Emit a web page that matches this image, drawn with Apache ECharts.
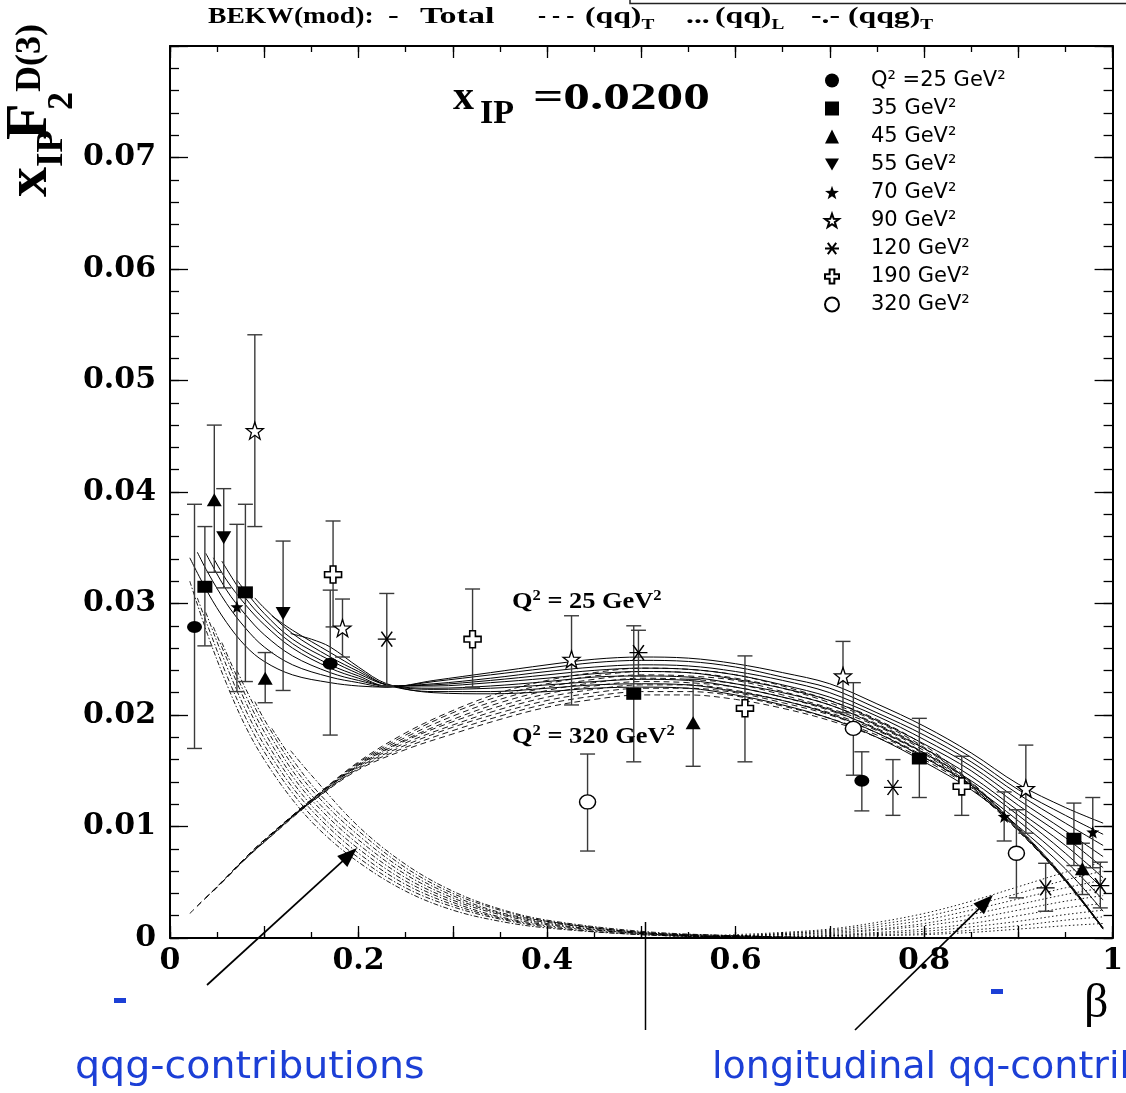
<!DOCTYPE html>
<html><head><meta charset="utf-8">
<script src="https://cdn.jsdelivr.net/npm/echarts/dist/echarts.min.js"></script>
<style>html,body{margin:0;padding:0;background:#fff}#c{width:1126px;height:1093px}</style>
</head><body><div id="c"></div>
<script>
// ---------------- DATA ----------------
const Q2 = [25, 35, 45, 55, 70, 90, 120, 190, 320];
const legendNames = ['Q\u00b2 =25 GeV\u00b2','35 GeV\u00b2','45 GeV\u00b2','55 GeV\u00b2','70 GeV\u00b2','90 GeV\u00b2','120 GeV\u00b2','190 GeV\u00b2','320 GeV\u00b2'];
const xTickLabels = ['0','0.2','0.4','0.6','0.8','1'];

// data points: [beta, value, errLow, errHigh]
const pts25  = [[0.026,.0279,.0170,.0389],[0.170,.0246,.0182,.0312],[0.734,.0141,.0114,.0167]];
const pts35  = [[0.037,.0315,.0262,.0369],[0.080,.0310,.0230,.0389],[0.492,.0219,.0158,.0280],[0.795,.0161,.0126,.0197],[0.959,.0089,.0065,.0121]];
const pts45  = [[0.047,.0393,.0328,.0460],[0.101,.0233,.0211,.0256],[0.555,.0193,.0154,.0232],[0.968,.0062,.0039,.0085]];
const pts55  = [[0.057,.0359,.0314,.0403],[0.120,.0291,.0222,.0356]];
const pts70  = [[0.071,.0297,.0221,.0371],[0.885,.0109,.0087,.0131],[0.979,.0095,.0063,.0126]];
const pts90  = [[0.090,.0455,.0369,.0541],[0.183,.0278,.0252,.0304],[0.426,.0250,.0209,.0289],[0.714,.0235,.0202,.0266],[0.908,.0134,.0094,.0173]];
const pts120 = [[0.230,.0268,.0226,.0309],[0.497,.0256,.0235,.0276],[0.767,.0135,.0110,.0160],[0.929,.0045,.0024,.0067],[0.987,.0047,.0027,.0068]];
const pts190 = [[0.173,.0326,.0279,.0374],[0.321,.0268,.0225,.0313],[0.610,.0206,.0158,.0253],[0.840,.0136,.0110,.0163]];
const pts320 = [[0.443,.0122,.0078,.0165],[0.725,.0188,.0146,.0229],[0.898,.0076,.0036,.0115]];
const pointSets = [pts25, pts35, pts45, pts55, pts70, pts90, pts120, pts190, pts320];

// BEKW(mod) total (solid), one curve per Q2 (25 ... 320)
const totalCurves = [
 [[0.021,.0341],[0.04,.0310],[0.06,.0283],[0.08,.0262],[0.1,.0248],[0.13,.0236],[0.17,.0229],[0.2,.0226],[0.23,.0225],[0.28,.0231],[0.34,.0238],[0.4,.0245],[0.45,.0250],[0.5,.0252],[0.55,.0251],[0.6,.0246],[0.65,.0238],[0.7,.0228],[0.75,.0210],[0.8,.0190],[0.85,.0166],[0.9,.0138],[0.95,.0117],[0.99,.0103]],
 [[0.029,.0346],[0.04,.0328],[0.06,.0300],[0.08,.0278],[0.1,.0261],[0.13,.0245],[0.17,.0234],[0.2,.0229],[0.23,.0225],[0.28,.0230],[0.34,.0236],[0.4,.0242],[0.45,.0247],[0.5,.0249],[0.55,.0248],[0.6,.0243],[0.65,.0234],[0.7,.0224],[0.75,.0206],[0.8,.0186],[0.85,.0162],[0.9,.0133],[0.95,.0110],[0.99,.0093]],
 [[0.038,.0345],[0.06,.0312],[0.08,.0290],[0.1,.0272],[0.13,.0253],[0.17,.0238],[0.2,.0231],[0.23,.0226],[0.28,.0228],[0.34,.0233],[0.4,.0239],[0.45,.0243],[0.5,.0245],[0.55,.0244],[0.6,.0239],[0.65,.0231],[0.7,.0220],[0.75,.0202],[0.8,.0182],[0.85,.0158],[0.9,.0129],[0.95,.0103],[0.99,.0083]],
 [[0.046,.0341],[0.06,.0321],[0.08,.0299],[0.1,.0281],[0.13,.0260],[0.17,.0242],[0.2,.0233],[0.23,.0226],[0.28,.0227],[0.34,.0231],[0.4,.0236],[0.45,.0240],[0.5,.0242],[0.55,.0241],[0.6,.0236],[0.65,.0227],[0.7,.0216],[0.75,.0199],[0.8,.0178],[0.85,.0154],[0.9,.0124],[0.95,.0096],[0.99,.0073]],
 [[0.055,.0338],[0.08,.0305],[0.1,.0286],[0.13,.0264],[0.17,.0245],[0.2,.0235],[0.23,.0226],[0.28,.0226],[0.34,.0229],[0.4,.0233],[0.45,.0237],[0.5,.0239],[0.55,.0238],[0.6,.0232],[0.65,.0224],[0.7,.0213],[0.75,.0195],[0.8,.0174],[0.85,.0150],[0.9,.0119],[0.95,.0090],[0.99,.0063]],
 [[0.071,.0321],[0.08,.0311],[0.1,.0291],[0.13,.0268],[0.17,.0249],[0.2,.0237],[0.23,.0227],[0.28,.0224],[0.34,.0226],[0.4,.0230],[0.45,.0234],[0.5,.0235],[0.55,.0234],[0.6,.0228],[0.65,.0220],[0.7,.0209],[0.75,.0191],[0.8,.0170],[0.85,.0145],[0.9,.0114],[0.95,.0083],[0.99,.0054]],
 [[0.09,.0305],[0.1,.0296],[0.13,.0273],[0.17,.0252],[0.2,.0239],[0.23,.0227],[0.28,.0223],[0.34,.0224],[0.4,.0227],[0.45,.0230],[0.5,.0232],[0.55,.0231],[0.6,.0225],[0.65,.0216],[0.7,.0205],[0.75,.0187],[0.8,.0166],[0.85,.0141],[0.9,.0110],[0.95,.0076],[0.99,.0044]],
 [[0.108,.0289],[0.13,.0276],[0.17,.0256],[0.2,.0241],[0.23,.0227],[0.28,.0221],[0.34,.0221],[0.4,.0224],[0.45,.0227],[0.5,.0228],[0.55,.0227],[0.6,.0221],[0.65,.0213],[0.7,.0201],[0.75,.0184],[0.8,.0162],[0.85,.0137],[0.9,.0105],[0.95,.0069],[0.99,.0034]],
 [[0.128,.0273],[0.15,.0268],[0.17,.0261],[0.2,.0243],[0.23,.0228],[0.28,.0220],[0.34,.0219],[0.4,.0221],[0.45,.0224],[0.5,.0225],[0.55,.0224],[0.6,.0218],[0.65,.0209],[0.7,.0197],[0.75,.0180],[0.8,.0158],[0.85,.0133],[0.9,.0100],[0.95,.0062],[0.99,.0024]]
];

// transverse qq (dashed)
const qqTCurves = [
 [[0.021,.0022],[0.05,.0046],[0.08,.0072],[0.1,.0088],[0.15,.0124],[0.2,.0158],[0.25,.0184],[0.3,.0204],[0.35,.0220],[0.4,.0231],[0.45,.0238],[0.5,.0242],[0.55,.0241],[0.6,.0236],[0.65,.0226],[0.7,.0213],[0.75,.0196],[0.8,.0173],[0.85,.0140],[0.9,.0099],[0.95,.0053],[0.99,.0009]],
 [[0.029,.0029],[0.05,.0046],[0.08,.0072],[0.1,.0088],[0.15,.0124],[0.2,.0157],[0.25,.0182],[0.3,.0202],[0.35,.0217],[0.4,.0228],[0.45,.0235],[0.5,.0239],[0.55,.0238],[0.6,.0233],[0.65,.0224],[0.7,.0211],[0.75,.0194],[0.8,.0171],[0.85,.0139],[0.9,.0099],[0.95,.0053],[0.99,.0009]],
 [[0.038,.0036],[0.06,.0054],[0.08,.0071],[0.1,.0087],[0.15,.0124],[0.2,.0156],[0.25,.0180],[0.3,.0199],[0.35,.0214],[0.4,.0225],[0.45,.0232],[0.5,.0236],[0.55,.0235],[0.6,.0231],[0.65,.0221],[0.7,.0209],[0.75,.0192],[0.8,.0170],[0.85,.0139],[0.9,.0098],[0.95,.0052],[0.99,.0009]],
 [[0.046,.0042],[0.06,.0054],[0.08,.0071],[0.1,.0087],[0.15,.0123],[0.2,.0155],[0.25,.0178],[0.3,.0196],[0.35,.0211],[0.4,.0222],[0.45,.0229],[0.5,.0233],[0.55,.0232],[0.6,.0228],[0.65,.0218],[0.7,.0206],[0.75,.0190],[0.8,.0168],[0.85,.0138],[0.9,.0098],[0.95,.0052],[0.99,.0009]],
 [[0.055,.0050],[0.08,.0071],[0.1,.0087],[0.15,.0123],[0.2,.0155],[0.25,.0177],[0.3,.0194],[0.35,.0208],[0.4,.0219],[0.45,.0226],[0.5,.0230],[0.55,.0229],[0.6,.0225],[0.65,.0216],[0.7,.0204],[0.75,.0188],[0.8,.0166],[0.85,.0137],[0.9,.0097],[0.95,.0052],[0.99,.0008]],
 [[0.071,.0064],[0.1,.0086],[0.15,.0123],[0.2,.0154],[0.25,.0175],[0.3,.0191],[0.35,.0205],[0.4,.0216],[0.45,.0223],[0.5,.0227],[0.55,.0227],[0.6,.0222],[0.65,.0213],[0.7,.0202],[0.75,.0186],[0.8,.0165],[0.85,.0136],[0.9,.0097],[0.95,.0052],[0.99,.0008]],
 [[0.09,.0079],[0.1,.0086],[0.15,.0122],[0.2,.0153],[0.25,.0173],[0.3,.0189],[0.35,.0202],[0.4,.0213],[0.45,.0220],[0.5,.0224],[0.55,.0224],[0.6,.0220],[0.65,.0211],[0.7,.0200],[0.75,.0184],[0.8,.0163],[0.85,.0136],[0.9,.0097],[0.95,.0051],[0.99,.0008]],
 [[0.108,.0093],[0.15,.0122],[0.2,.0152],[0.25,.0171],[0.3,.0186],[0.35,.0199],[0.4,.0210],[0.45,.0217],[0.5,.0221],[0.55,.0221],[0.6,.0217],[0.65,.0208],[0.7,.0197],[0.75,.0182],[0.8,.0162],[0.85,.0135],[0.9,.0096],[0.95,.0051],[0.99,.0008]],
 [[0.128,.0108],[0.15,.0122],[0.2,.0151],[0.25,.0169],[0.3,.0183],[0.35,.0196],[0.4,.0207],[0.45,.0214],[0.5,.0218],[0.55,.0218],[0.6,.0214],[0.65,.0206],[0.7,.0195],[0.75,.0180],[0.8,.0160],[0.85,.0134],[0.9,.0096],[0.95,.0051],[0.99,.0008]]
];

// longitudinal qq (dotted)
const qqLCurves = [
 [[0.5,0],[0.55,.0001],[0.6,.0003],[0.65,.0005],[0.7,.0008],[0.75,.0014],[0.8,.0022],[0.85,.0033],[0.9,.0046],[0.95,.0059],[0.99,.0068]],
 [[0.5,0],[0.55,.0001],[0.6,.0002],[0.65,.0004],[0.7,.0007],[0.75,.0012],[0.8,.0019],[0.85,.0029],[0.9,.0040],[0.95,.0052],[0.99,.0060]],
 [[0.5,0],[0.55,.0001],[0.6,.0002],[0.65,.0004],[0.7,.0006],[0.75,.0010],[0.8,.0016],[0.85,.0025],[0.9,.0035],[0.95,.0045],[0.99,.0052]],
 [[0.5,0],[0.55,.0001],[0.6,.0002],[0.65,.0003],[0.7,.0005],[0.75,.0008],[0.8,.0013],[0.85,.0021],[0.9,.0030],[0.95,.0039],[0.99,.0045]],
 [[0.5,0],[0.55,.00005],[0.6,.0001],[0.65,.0003],[0.7,.0004],[0.75,.0007],[0.8,.0011],[0.85,.0017],[0.9,.0025],[0.95,.0033],[0.99,.0038]],
 [[0.5,0],[0.55,.00004],[0.6,.0001],[0.65,.0002],[0.7,.0003],[0.75,.0005],[0.8,.0008],[0.85,.0013],[0.9,.0020],[0.95,.0027],[0.99,.0031]],
 [[0.5,0],[0.55,.00003],[0.6,.0001],[0.65,.0001],[0.7,.0002],[0.75,.0004],[0.8,.0006],[0.85,.0010],[0.9,.0015],[0.95,.0021],[0.99,.0025]],
 [[0.5,0],[0.55,.00002],[0.6,.00005],[0.65,.0001],[0.7,.0002],[0.75,.0003],[0.8,.0004],[0.85,.0007],[0.9,.0011],[0.95,.0016],[0.99,.0019]],
 [[0.5,0],[0.55,0],[0.6,.00003],[0.65,.00006],[0.7,.0001],[0.75,.0002],[0.8,.0003],[0.85,.0005],[0.9,.0008],[0.95,.0011],[0.99,.0013]]
];

// qqg (dash-dot)
const qqgCurves = [
 [[0.021,.0320],[0.04,.0272],[0.06,.0228],[0.08,.0190],[0.1,.0160],[0.13,.0124],[0.16,.0096],[0.2,.0068],[0.25,.0042],[0.3,.0025],[0.35,.0015],[0.4,.0009],[0.5,.0003],[0.6,.0001],[0.7,0]],
 [[0.029,.0305],[0.04,.0280],[0.06,.0236],[0.08,.0198],[0.1,.0167],[0.13,.0130],[0.16,.0101],[0.2,.0072],[0.25,.0045],[0.3,.0028],[0.35,.0017],[0.4,.0010],[0.5,.0003],[0.6,.0001],[0.7,0]],
 [[0.038,.0292],[0.06,.0244],[0.08,.0205],[0.1,.0173],[0.13,.0135],[0.16,.0106],[0.2,.0076],[0.25,.0048],[0.3,.0030],[0.35,.0018],[0.4,.0011],[0.5,.0004],[0.6,.0001],[0.7,0]],
 [[0.046,.0279],[0.06,.0251],[0.08,.0212],[0.1,.0179],[0.13,.0140],[0.16,.0110],[0.2,.0080],[0.25,.0051],[0.3,.0032],[0.35,.0019],[0.4,.0012],[0.5,.0004],[0.6,.0001],[0.7,0]],
 [[0.055,.0265],[0.08,.0218],[0.1,.0185],[0.13,.0145],[0.16,.0115],[0.2,.0084],[0.25,.0054],[0.3,.0034],[0.35,.0021],[0.4,.0013],[0.5,.0004],[0.6,.0001],[0.7,0]],
 [[0.071,.0240],[0.08,.0224],[0.1,.0191],[0.13,.0150],[0.16,.0119],[0.2,.0088],[0.25,.0057],[0.3,.0036],[0.35,.0022],[0.4,.0014],[0.5,.0005],[0.6,.0001],[0.7,0]],
 [[0.09,.0212],[0.1,.0196],[0.13,.0155],[0.16,.0124],[0.2,.0092],[0.25,.0060],[0.3,.0038],[0.35,.0023],[0.4,.0015],[0.5,.0005],[0.6,.0002],[0.7,0]],
 [[0.108,.0188],[0.13,.0160],[0.16,.0128],[0.2,.0096],[0.25,.0063],[0.3,.0040],[0.35,.0025],[0.4,.0015],[0.5,.0005],[0.6,.0002],[0.7,0]],
 [[0.128,.0168],[0.15,.0146],[0.2,.0100],[0.25,.0066],[0.3,.0042],[0.35,.0026],[0.4,.0016],[0.5,.0006],[0.6,.0002],[0.7,0]]
];

// ---------------- STYLE ----------------
const STAR = 'path://M0,-10L2.35,-3.24L9.51,-3.09L3.8,1.24L5.88,8.09L0,4L-5.88,8.09L-3.8,1.24L-9.51,-3.09L-2.35,-3.24Z';
const ASTER = 'path://M-10,0L10,0M-6,-8L6,8M-6,8L6,-8';
const CROSS = 'path://M-3,-9L3,-9L3,-3L9,-3L9,3L3,3L3,9L-3,9L-3,3L-9,3L-9,-3L-3,-3Z';
const TRI_DOWN = 'path://M-10,-8L10,-8L0,9Z';
const markerStyles = [
  {symbol:'circle', size:[15,12], fill:'#000', bw:0},
  {symbol:'rect', size:[15,12], fill:'#000', bw:0},
  {symbol:'triangle', size:[15,13], fill:'#000', bw:0},
  {symbol:TRI_DOWN, size:[15,13], fill:'#000', bw:0},
  {symbol:STAR, size:13, fill:'#000', bw:0},
  {symbol:STAR, size:17, fill:'#fff', bw:1.3},
  {symbol:ASTER, size:[18,15], fill:'#000', bw:1.4},
  {symbol:CROSS, size:17, fill:'#fff', bw:1.6},
  {symbol:'circle', size:[16,14], fill:'#fff', bw:1.4}
];

const chart = echarts.init(document.getElementById('c'), null, {renderer:'canvas'});
const series = [];

function lineSeries(curves, type, width) {
  curves.forEach((c) => {
    series.push({
      type:'line', data:c, showSymbol:false, symbol:'none', smooth:0.35, silent:true,
      lineStyle:{color:'#000', width:width, type:type}, z:2, animation:false, clip:true
    });
  });
}
lineSeries(totalCurves, 'solid', 1);
lineSeries(qqTCurves, [6,4], 0.9);
lineSeries(qqLCurves, [1.5,2.5], 0.9);
lineSeries(qqgCurves, [5,2,1.5,2], 0.9);

// error bars
const allPts = [].concat(...pointSets);
series.push({
  type:'custom', silent:true, z:3, animation:false, clip:true,
  data: allPts,
  encode:{x:0, y:[2,3]},
  renderItem:(params, api) => {
    const b = api.value(0), lo = api.value(2), hi = api.value(3);
    const pL = api.coord([b, lo]), pH = api.coord([b, hi]);
    const w = 7.5, st = {stroke:'#3a3a3a', lineWidth:1.4};
    return {type:'group', children:[
      {type:'line', shape:{x1:pL[0], y1:pL[1], x2:pH[0], y2:pH[1]}, style:st},
      {type:'line', shape:{x1:pL[0]-w, y1:pL[1], x2:pL[0]+w, y2:pL[1]}, style:st},
      {type:'line', shape:{x1:pH[0]-w, y1:pH[1], x2:pH[0]+w, y2:pH[1]}, style:st}
    ]};
  }
});

pointSets.forEach((pts, i) => {
  const m = markerStyles[i];
  series.push({
    name: legendNames[i], type:'scatter', z:4, animation:false,
    data: pts.map(p => [p[0], p[1]]),
    symbol: m.symbol, symbolSize: m.size,
    itemStyle:{color:m.fill, borderColor:'#000', borderWidth:m.bw, opacity:1}
  });
});

// ---------------- GRAPHICS (annotations) ----------------
const SERIF = '"Liberation Serif", "Times New Roman", serif';
function txt(text, x, y, font, opts) {
  opts = opts || {};
  return Object.assign({type:'text', x:x, y:y, silent:true, z:10,
    style:Object.assign({text:text, font:font, fill:opts.fill || '#000',
      align:opts.align || 'left', verticalAlign:opts.va || 'middle',
      textAlign:opts.align || 'left', textVerticalAlign:opts.va || 'middle'}, opts.style || {})},
    opts.el || {});
}
function arrow(x1, y1, x2, y2, color) {
  const dx = x2 - x1, dy = y2 - y1, L = Math.hypot(dx, dy);
  const ux = dx / L, uy = dy / L, hl = 20, hw = 7.5;
  const bx = x2 - ux * hl, by = y2 - uy * hl;
  return [
    {type:'line', silent:true, z:10, shape:{x1:x1, y1:y1, x2:bx + ux*2, y2:by + uy*2}, style:{stroke:color, lineWidth:1.7}},
    {type:'polygon', silent:true, z:10, shape:{points:[[x2,y2],[bx - uy*hw, by + ux*hw],[bx + uy*hw, by - ux*hw]]}, style:{fill:color}}
  ];
}
const richTitle = {m:{font:'bold 23px ' + SERIF}, s:{font:'bold 14px ' + SERIF, padding:[16,0,0,0]}};
// [text, left x, horizontal stretch]
const titlePieces = [
  ['BEKW(mod):', 208, 1.2], ['-', 388, 1.4], ['Total', 420, 1.48], ['- - -', 538, 1.05], ['(qq){s|T}', 585, 1.38],
  ['...', 686, 1.38], ['(qq){s|L}', 715, 1.38], ['-.-', 811, 1.38], ['(qqg){s|T}', 848, 1.38]
];
const graphics = [];
titlePieces.forEach(p => {
  const t = p[0].replace(/^([^{]+)/, '{m|$1}');
  graphics.push({type:'text', x:p[1], y:17.5, scaleX:p[2], silent:true, z:10,
    style:{text:t, rich:richTitle, align:'left', verticalAlign:'middle', textAlign:'left', textVerticalAlign:'middle', fill:'#000'}});
});
// box at top right
graphics.push({type:'rect', silent:true, z:10, shape:{x:630, y:-10, width:520, height:13.5}, style:{fill:'none', stroke:'#222', lineWidth:1.5}});

// y-axis title (rotated)
const R = Math.PI / 2;
graphics.push(txt('x', 30, 197, 'bold 60px ' + SERIF, {el:{rotation:R}}));
graphics.push(txt('IP', 52, 167, 'bold 37px ' + SERIF, {el:{rotation:R}}));
graphics.push(txt('F', 30, 140, 'bold 60px ' + SERIF, {el:{rotation:R}}));
graphics.push(txt('2', 63, 110, 'bold 36px ' + SERIF, {el:{rotation:R}}));
graphics.push(txt('D(3)', 31, 92, 'bold 36px ' + SERIF, {el:{rotation:R}}));

// x_IP label
graphics.push(txt('x', 453, 98, 'bold 42px ' + SERIF));
graphics.push(txt('IP', 480, 114, 'bold 34px ' + SERIF));
graphics.push(txt('=0.0200', 533, 99.5, 'bold 37px ' + SERIF, {el:{scaleX:1.44}}));

// Q2 labels on curves
const richQ = {m:{font:'bold 24px ' + SERIF}, s:{font:'bold 15px ' + SERIF, padding:[0,0,12,0]}};
graphics.push({type:'text', x:512, y:602, scaleX:1.1, silent:true, z:10, style:{text:'{m|Q}{s|2}{m| = 25 GeV}{s|2}', rich:richQ, align:'left', verticalAlign:'middle', textAlign:'left', textVerticalAlign:'middle'}});
graphics.push({type:'text', x:512, y:737, scaleX:1.1, silent:true, z:10, style:{text:'{m|Q}{s|2}{m| = 320 GeV}{s|2}', rich:richQ, align:'left', verticalAlign:'middle', textAlign:'left', textVerticalAlign:'middle'}});

// beta axis name
graphics.push(txt('\u03b2', 1084, 1004, '48px ' + SERIF));

// bottom slide annotations
const BLUE = '#1c3fd6';
graphics.push(txt('qqg-contributions', 75, 1068, '38px "DejaVu Sans"', {fill:BLUE, el:{scaleX:1.04}}));
graphics.push(txt('longitudinal qq-contributions', 712, 1068, '38px "DejaVu Sans"', {fill:BLUE, el:{scaleX:1.0}}));
graphics.push({type:'rect', silent:true, z:10, shape:{x:114, y:998, width:12, height:5}, style:{fill:BLUE}});
graphics.push({type:'rect', silent:true, z:10, shape:{x:991, y:989, width:12, height:5}, style:{fill:BLUE}});
graphics.push({type:'line', silent:true, z:10, shape:{x1:645.5, y1:922, x2:645.5, y2:1030}, style:{stroke:'#000', lineWidth:1.5}});
graphics.push(...arrow(207, 985, 357, 848, '#000'));
graphics.push(...arrow(855, 1030, 993, 895, '#000'));

// ---------------- OPTION ----------------
const LABEL_FONT = {fontFamily:'"DejaVu Serif", serif', fontWeight:'bold', fontSize:30, color:'#000'};
function tickAxis(pos, max, interval, len, withLine, label) {
  return {type:'value', min:0, max:max, interval:interval, position:pos,
    axisLine:{show:withLine, onZero:false, lineStyle:{color:'#000', width:2}},
    axisTick:{show:true, inside:true, length:len, lineStyle:{color:'#000', width:1.3}},
    minorTick:{show:false}, splitLine:{show:false},
    axisLabel: label ? label : {show:false}};
}
const xLabel = Object.assign({margin:8, formatter:(v) => {
  const t = Math.round(v * 10);
  return (t % 2) ? '' : xTickLabels[t / 2];
}}, LABEL_FONT);
const yLabel = Object.assign({margin:14, formatter:(v) => v === 0 ? '0' : (v > 0.0795 ? '' : v.toFixed(2))}, LABEL_FONT);
const option = {
  animation:false,
  backgroundColor:'#fff',
  grid:{left:170, right:8, top:46, bottom:155, containLabel:false},
  xAxis:[
    tickAxis('bottom', 1, 0.1, 12, true, xLabel),
    tickAxis('top', 1, 0.1, 12, true, null),
    tickAxis('bottom', 1, 0.05, 6, false, null),
    tickAxis('top', 1, 0.05, 6, false, null)
  ],
  yAxis:[
    tickAxis('left', 0.08, 0.01, 18, true, yLabel),
    tickAxis('right', 0.08, 0.01, 18, true, null),
    tickAxis('left', 0.08, 0.002, 9, false, null),
    tickAxis('right', 0.08, 0.002, 9, false, null)
  ],
  legend:{
    data:legendNames.map((n, i) => i === 3 ? {name:n, icon:TRI_DOWN} : n),
    orient:'vertical', left:824, top:70, padding:0, itemWidth:14, itemHeight:14, itemGap:7,
    selectedMode:false, inactiveColor:'#000',
    textStyle:{fontFamily:'"DejaVu Sans", sans-serif', fontSize:21, color:'#000', lineHeight:20, padding:[0,0,0,27]}
  },
  series:series,
  graphic:{elements:graphics}
};
chart.setOption(option);
</script></body></html>
